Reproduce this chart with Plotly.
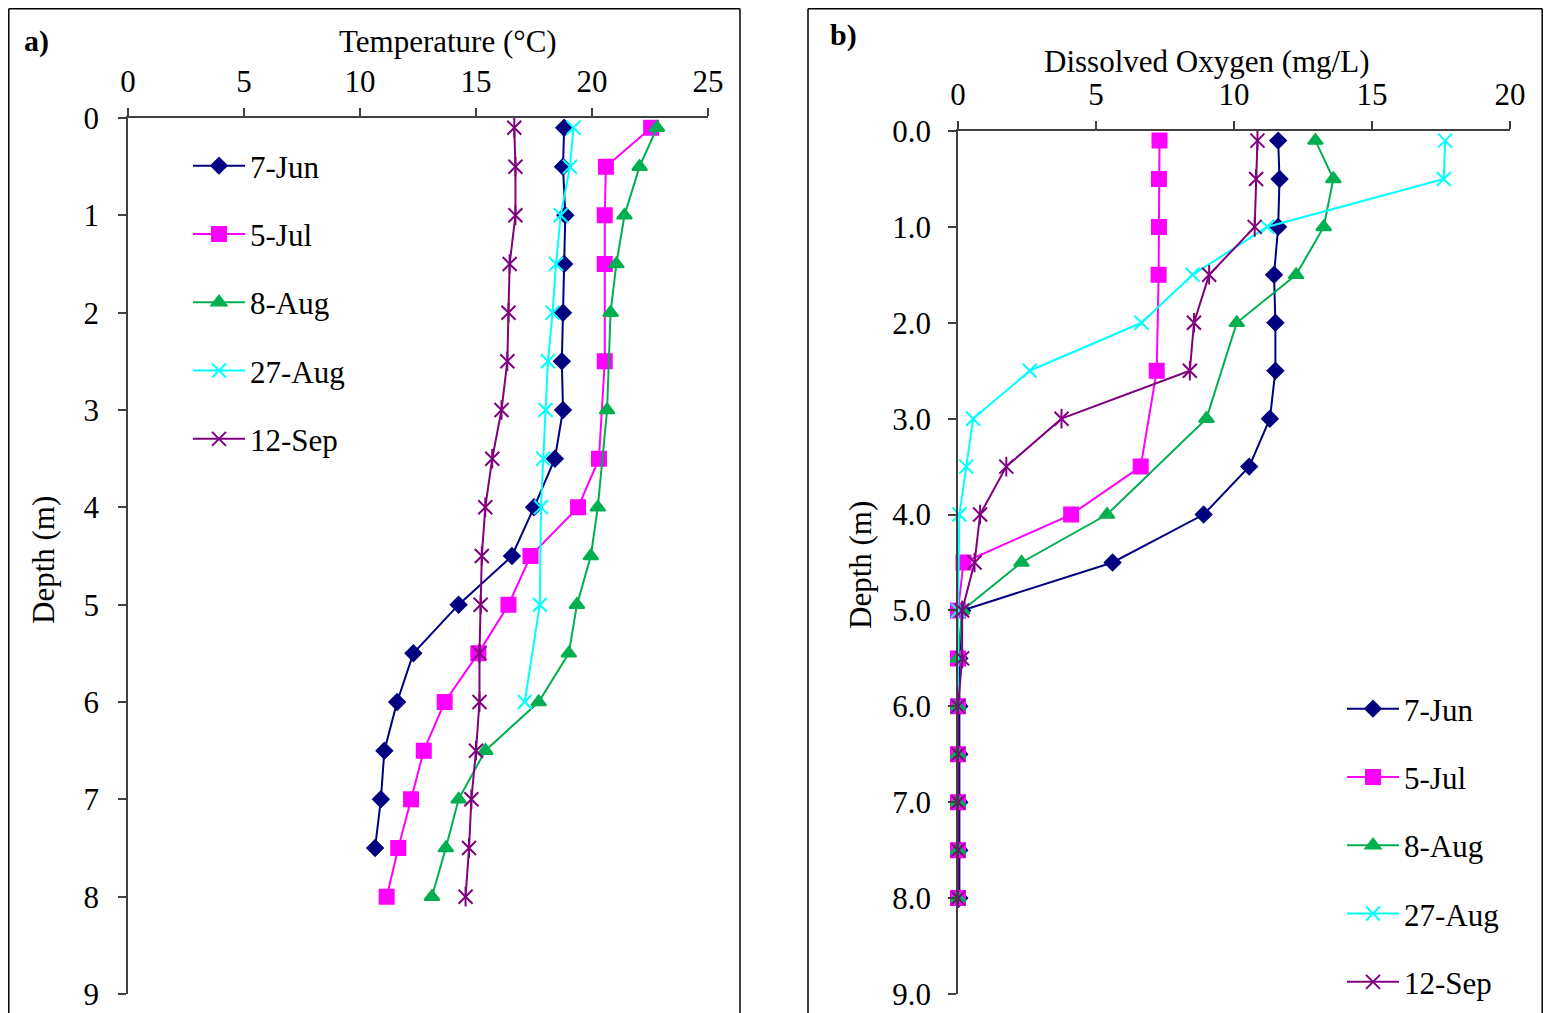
import plotly.graph_objects as go

# ---------------- data ----------------
series_names = ["7-Jun", "5-Jul", "8-Aug", "27-Aug", "12-Sep"]

# Temperature (°C) profiles
jun_t_depth = [0.1, 0.5, 1, 1.5, 2, 2.5, 3, 3.5, 4, 4.5, 5, 5.5, 6, 6.5, 7, 7.5]
jun_t = [18.8, 18.75, 18.85, 18.8, 18.75, 18.7, 18.75, 18.4, 17.5, 16.55, 14.25, 12.3, 11.6, 11.05, 10.9, 10.65]
jul_t_depth = [0.1, 0.5, 1, 1.5, 2.5, 3.5, 4, 4.5, 5, 5.5, 6, 6.5, 7, 7.5, 8]
jul_t = [22.55, 20.6, 20.55, 20.55, 20.55, 20.3, 19.4, 17.35, 16.4, 15.1, 13.65, 12.75, 12.2, 11.65, 11.15]
aug8_t_depth = [0.1, 0.5, 1, 1.5, 2, 3, 4, 4.5, 5, 5.5, 6, 6.5, 7, 7.5, 8]
aug8_t = [22.8, 22.05, 21.4, 21.05, 20.8, 20.65, 20.25, 19.95, 19.35, 19.0, 17.7, 15.4, 14.25, 13.7, 13.1]
aug27_t_depth = [0.1, 0.5, 1, 1.5, 2, 2.5, 3, 3.5, 4, 5, 6]
aug27_t = [19.2, 19.05, 18.65, 18.45, 18.3, 18.1, 18.0, 17.9, 17.8, 17.75, 17.1]
sep_t_depth = [0.1, 0.5, 1, 1.5, 2, 2.5, 3, 3.5, 4, 4.5, 5, 5.5, 6, 6.5, 7, 7.5, 8]
sep_t = [16.65, 16.7, 16.7, 16.45, 16.4, 16.35, 16.1, 15.7, 15.4, 15.25, 15.2, 15.15, 15.15, 15.0, 14.8, 14.7, 14.55]

# Dissolved oxygen (mg/L) profiles
jun_do_depth = [0.1, 0.5, 1, 1.5, 2, 2.5, 3, 3.5, 4, 4.5, 5, 5.5, 6, 6.5, 7, 7.5, 8]
jun_do = [11.6, 11.65, 11.6, 11.45, 11.5, 11.5, 11.3, 10.55, 8.9, 5.6, 0.15, 0.05, 0.05, 0.05, 0.05, 0.05, 0.05]
jul_do_depth = [0.1, 0.5, 1, 1.5, 2.5, 3.5, 4, 4.5, 5, 5.5, 6, 6.5, 7, 7.5, 8]
jul_do = [7.3, 7.28, 7.28, 7.27, 7.2, 6.62, 4.1, 0.2, 0.0, 0.0, 0.0, 0.0, 0.0, 0.0, 0.0]
aug8_do_depth = [0.1, 0.5, 1, 1.5, 2, 3, 4, 4.5, 5, 5.5, 6, 6.5, 7, 7.5, 8]
aug8_do = [12.95, 13.6, 13.25, 12.25, 10.1, 9.0, 5.4, 2.3, 0.15, 0.0, 0.0, 0.0, 0.0, 0.0, 0.0]
aug27_do_depth = [0.1, 0.5, 1, 1.5, 2, 2.5, 3, 3.5, 4, 5, 6]
aug27_do = [17.65, 17.6, 11.2, 8.5, 6.65, 2.6, 0.55, 0.3, 0.05, 0.0, 0.0]
sep_do_depth = [0.1, 0.5, 1, 1.5, 2, 2.5, 3, 3.5, 4, 4.5, 5, 5.5, 6, 6.5, 7, 7.5, 8]
sep_do = [10.85, 10.8, 10.75, 9.1, 8.55, 8.4, 3.75, 1.75, 0.8, 0.6, 0.15, 0.15, 0.0, 0.0, 0.0, 0.0, 0.0]

temp_ticks = [0, 5, 10, 15, 20, 25]
do_ticks = [0, 5, 10, 15, 20]
depth_ticks = [0, 1, 2, 3, 4, 5, 6, 7, 8, 9]

# ---------------- styling ----------------
# the page adds an 8 px body margin; figure positioned so screen coords match
W, H = 1535, 1005
OFF = 8
FONT = "Liberation Serif, Times New Roman, serif"
FS = 31
colors = ["#000080", "#FF00FF", "#00B050", "#00FFFF", "#800080"]
symbols = ["diamond", "square", "triangle-up", "x-thin-open", "x-thin-open"]
msizes = [12, 14, 13, 14, 14]
AX = "#404040"


def px(x):
    """screen x (reference pixels) -> paper fraction"""
    return (x - OFF) / W


def py(y):
    """screen y (reference pixels) -> paper fraction"""
    return 1 - (y - OFF) / H


temp_sets = [(jun_t, jun_t_depth), (jul_t, jul_t_depth), (aug8_t, aug8_t_depth),
             (aug27_t, aug27_t_depth), (sep_t, sep_t_depth)]
do_sets = [(jun_do, jun_do_depth), (jul_do, jul_do_depth), (aug8_do, aug8_do_depth),
           (aug27_do, aug27_do_depth), (sep_do, sep_do_depth)]

fig = go.Figure()


def add_panel(sets, xa, ya, legend):
    for i, (vals, dep) in enumerate(sets):
        fig.add_trace(go.Scatter(
            x=vals, y=dep, mode="lines+markers", name=series_names[i],
            xaxis=xa, yaxis=ya, legend=legend, legendgroup=legend + str(i),
            line=dict(color=colors[i], width=2),
            marker=dict(symbol=symbols[i], size=msizes[i], color=colors[i],
                        line=dict(color=colors[i], width=2)),
            cliponaxis=False,
        ))
        if i == 4:
            # vertical stroke turning the x into an asterisk
            fig.add_trace(go.Scatter(
                x=vals, y=dep, mode="markers", showlegend=False,
                xaxis=xa, yaxis=ya, legend=legend, legendgroup=legend + str(i),
                marker=dict(symbol="line-ns-open", size=14, color=colors[i],
                            line=dict(color=colors[i], width=2)),
                cliponaxis=False,
            ))


add_panel(temp_sets, "x", "y", "legend")
add_panel(do_sets, "x2", "y2", "legend2")

tickfont = dict(family=FONT, size=FS, color="black")
common_x = dict(side="top", showline=True, linecolor=AX, linewidth=1.5, ticks="outside",
                ticklen=8, tickcolor=AX, tickwidth=1.5, showgrid=False, zeroline=False,
                tickfont=tickfont, ticklabelstandoff=4, automargin=False,
                ticklabeloverflow="allow")
common_y = dict(showline=True, linecolor=AX, linewidth=1.5, ticks="outside", ticklen=8,
                tickcolor=AX, tickwidth=1.5, showgrid=False, zeroline=False,
                tickfont=tickfont, range=[9, 0], tickvals=depth_ticks, automargin=False,
                ticklabeloverflow="allow")

legend_common = dict(xanchor="left", yanchor="top", bgcolor="rgba(0,0,0,0)",
                     font=dict(family=FONT, size=FS, color="black"), tracegroupgap=25,
                     itemwidth=52)


def vline(x, y_top):
    return dict(type="line", xref="paper", yref="paper", x0=x, x1=x, y0=0, y1=y_top,
                line=dict(color="black", width=1.5))


def hline(x0, x1, y):
    return dict(type="line", xref="paper", yref="paper", x0=x0, x1=x1, y0=y, y1=y,
                line=dict(color="black", width=1.5))


left_edge = 0.8 / W
right_edge = 1 - 0.8 / W
top = 1 - 0.8 / H
AXIS_BOTTOM = 994
fig.update_layout(
    width=W, height=H, margin=dict(l=0, r=0, t=0, b=0, pad=0, autoexpand=False),
    paper_bgcolor="white", plot_bgcolor="white",
    font=dict(family=FONT, size=FS, color="black"),
    xaxis=dict(common_x, domain=[px(128), px(708)], range=[0, 25], tickvals=temp_ticks,
               anchor="y"),
    yaxis=dict(common_y, domain=[py(AXIS_BOTTOM), py(118)], anchor="x", ticklabelstandoff=13),
    xaxis2=dict(common_x, domain=[px(958), px(1510)], range=[0, 20], tickvals=do_ticks,
                anchor="y2"),
    yaxis2=dict(common_y, domain=[py(AXIS_BOTTOM), py(131)], anchor="x2", tickformat=".1f",
                ticklabelstandoff=11),
    legend=dict(legend_common, x=px(188), y=py(139)),
    legend2=dict(legend_common, x=px(1342), y=py(682)),
    shapes=[
        vline(left_edge, top), vline(px(740), top), hline(left_edge, px(740), top),
        vline(px(808), top), vline(right_edge, top), hline(px(808), right_edge, top),
    ],
    annotations=[
        dict(text="<b>a)</b>", x=px(22), y=py(41), xref="paper", yref="paper",
             xanchor="left", yanchor="middle", showarrow=False, font=dict(size=30)),
        dict(text="<b>b)</b>", x=px(828), y=py(35), xref="paper", yref="paper",
             xanchor="left", yanchor="middle", showarrow=False, font=dict(size=30)),
        dict(text="Temperature (°C)", x=px(448), y=py(41), xref="paper", yref="paper",
             xanchor="center", yanchor="middle", showarrow=False, font=dict(size=FS)),
        dict(text="Dissolved Oxygen (mg/L)", x=px(1206), y=py(61), xref="paper", yref="paper",
             xanchor="center", yanchor="middle", showarrow=False, font=dict(size=FS)),
        dict(text="Depth (m)", x=px(43), y=py(560), xref="paper", yref="paper",
             xanchor="center", yanchor="middle", showarrow=False, textangle=-90,
             font=dict(size=FS)),
        dict(text="Depth (m)", x=px(860), y=py(565), xref="paper", yref="paper",
             xanchor="center", yanchor="middle", showarrow=False, textangle=-90,
             font=dict(size=FS)),
    ],
)

fig.write_html("out.html")
